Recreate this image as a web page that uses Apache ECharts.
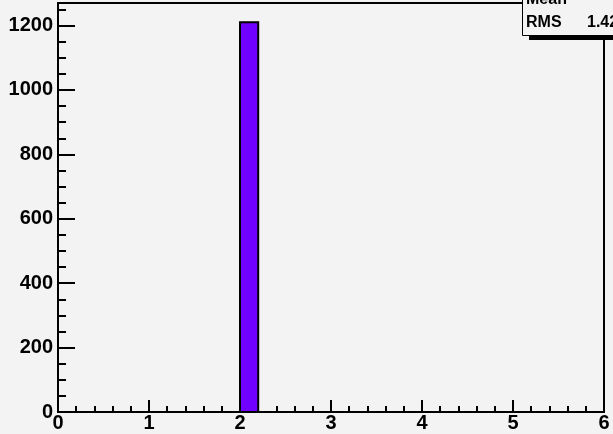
<!DOCTYPE html>
<html>
<head>
<meta charset="utf-8">
<script src="https://cdn.jsdelivr.net/npm/echarts@6/dist/echarts.min.js"></script>
<style>
html,body{margin:0;padding:0;background:#f3f3f3;}
#c{width:613px;height:434px;}
</style>
</head>
<body>
<div id="c"></div>
<script>
// Histogram bins (low edges), bin width 0.2
const binLow = [0.0,0.2,0.4,0.6,0.8,1.0,1.2,1.4,1.6,1.8,2.0,2.2,2.4,2.6,2.8,3.0,3.2,3.4,3.6,3.8,4.0,4.2,4.4,4.6,4.8,5.0,5.2,5.4,5.6,5.8];
const binWidth = 0.2;
const counts = [0,0,0,0,0,0,0,0,0,0,1210,0,0,0,0,0,0,0,0,0,0,0,0,0,0,0,0,0,0,0];
const xTicks = [0,1,2,3,4,5,6];
const yTicks = [0,200,400,600,800,1000,1200];
const statsLabels = ["Mean","RMS"];
const statsValues = ["","1.42"];

const FONT = '"Liberation Sans", Arial, Helvetica, sans-serif';
const yMax = 1270;

const histData = [];
for (let i = 0; i < binLow.length; i++) {
  if (counts[i] > 0) histData.push([binLow[i], binLow[i] + binWidth, counts[i]]);
}

const chart = echarts.init(document.getElementById('c'), null, {renderer:'canvas'});
chart.setOption({
  backgroundColor: '#f3f3f3',
  animation: false,
  grid: {left: 58, right: 9, top: 3, bottom: 22, show: true, borderColor: '#000', borderWidth: 2, backgroundColor: 'transparent'},
  xAxis: {
    type: 'value', min: xTicks[0], max: xTicks[xTicks.length-1], interval: 1,
    axisLine: {show: true, onZero: false, lineStyle: {color: '#000', width: 2}},
    axisTick: {show: true, inside: true, length: 12, lineStyle: {color: '#000', width: 2}},
    minorTick: {show: true, splitNumber: 5, length: 6, lineStyle: {color: '#000', width: 2}},
    splitLine: {show: false},
    axisLabel: {color: '#000', fontFamily: FONT, fontWeight: 'bold', fontSize: 20, margin: 1,
      formatter: v => xTicks.indexOf(v) >= 0 ? String(v) : ''}
  },
  yAxis: [{
    type: 'value', min: 0, max: yMax, interval: 200,
    axisLine: {show: true, lineStyle: {color: '#000', width: 2}},
    axisTick: {show: true, inside: true, length: 17, lineStyle: {color: '#000', width: 2}},
    splitLine: {show: false},
    axisLabel: {color: '#000', fontFamily: FONT, fontWeight: 'bold', fontSize: 20, margin: 5,
      formatter: v => yTicks.indexOf(v) >= 0 ? String(v) : ''}
  },{
    type: 'value', min: 0, max: yMax, interval: 50, position: 'left',
    axisLine: {show: false},
    axisTick: {show: true, inside: true, length: 8, lineStyle: {color: '#000', width: 2}},
    splitLine: {show: false},
    axisLabel: {show: false}
  }],
  series: [{
    type: 'custom',
    yAxisIndex: 0,
    data: histData,
    renderItem: function (params, api) {
      const p0 = api.coord([api.value(0), 0]);
      const p1 = api.coord([api.value(1), api.value(2)]);
      return {
        type: 'rect',
        shape: {x: p0[0], y: p1[1], width: p1[0] - p0[0], height: p0[1] - p1[1]},
        style: {fill: '#7000ff', stroke: '#000', lineWidth: 2}
      };
    },
    z: 1
  }],
  graphic: [
    {type: 'rect', shape: {x: 529, y: -80, width: 120, height: 120}, style: {fill: '#000'}, z: 100},
    {type: 'rect', shape: {x: 522.5, y: -85, width: 130, height: 120.5}, style: {fill: '#f3f3f3', stroke: '#000', lineWidth: 1}, z: 101},
    {type: 'text', left: 526, top: -8, style: {text: statsLabels[0], font: 'bold 16px ' + FONT, fill: '#000'}, z: 102},
    {type: 'text', left: 526, top: 15, style: {text: statsLabels[1], font: 'bold 16px ' + FONT, fill: '#000'}, z: 102},
    {type: 'text', left: 587, top: 15, style: {text: statsValues[1], font: 'bold 16px ' + FONT, fill: '#000'}, z: 102}
  ]
});
</script>
</body>
</html>
